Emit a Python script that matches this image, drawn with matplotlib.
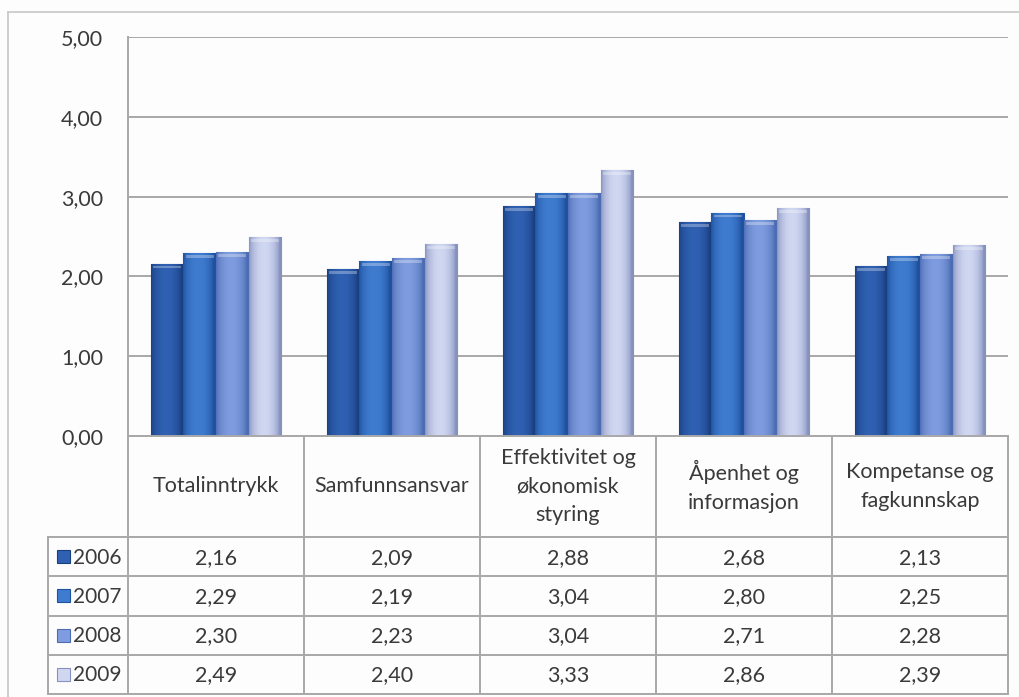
import numpy as np
import matplotlib
matplotlib.use("Agg")
import matplotlib.pyplot as plt
from matplotlib.colors import to_rgb

plt.rcParams['font.family'] = ['Lato', 'DejaVu Sans']

categories = ["Totalinntrykk", "Samfunnsansvar", "Effektivitet og\nøkonomisk\nstyring",
              "Åpenhet og\ninformasjon", "Kompetanse og\nfagkunnskap"]
years = ["2006", "2007", "2008", "2009"]
v2006 = [2.16, 2.09, 2.88, 2.68, 2.13]
v2007 = [2.29, 2.19, 3.04, 2.80, 2.25]
v2008 = [2.30, 2.23, 3.04, 2.71, 2.28]
v2009 = [2.49, 2.40, 3.33, 2.86, 2.39]
series = [v2006, v2007, v2008, v2009]
yticks = [0, 1, 2, 3, 4, 5]

# edge / centre colours for the cylinder-ish shading
edge_cols = ["#1a3f80", "#20519f", "#4c6cb4", "#8791bf"]
mid_cols = ["#2f60b2", "#3f7cd0", "#7e9cdf", "#cfd7f1"]
grid_col = "#a8a8a8"
txt_col = "#3a3a3a"
fs = 15.5

W, H = 1020, 697
fig = plt.figure(figsize=(W / 100, H / 100), dpi=100)
fig.patch.set_facecolor("#fdfdfd")

# outer border of the chart object
fig.add_artist(plt.Line2D([8 / W, 8 / W], [0, 1 - 12 / H], color="#c8c8c8", lw=1.2))
fig.add_artist(plt.Line2D([8 / W, 1], [1 - 12 / H, 1 - 12 / H], color="#c8c8c8", lw=1.2))

left, right = 128 / W, 1008 / W
ax = fig.add_axes([left, 1 - 436 / H, right - left, (436 - 37) / H])
ax.set_facecolor("none")


def shade(edge, mid, n=64):
    t = np.linspace(0, 1, n)
    prof = np.sin(np.pi * np.clip(t * 1.08, 0, 1)) ** 0.6
    e, m = np.array(to_rgb(edge)), np.array(to_rgb(mid))
    return (e[None, :] + (m - e)[None, :] * prof[:, None])[None, :, :]


x = np.arange(len(categories))
bw = 0.185
for i, vals in enumerate(series):
    bars = ax.bar(x + (i - 1.5) * bw, vals, bw, color=mid_cols[i],
                  edgecolor=edge_cols[i], linewidth=0.8, zorder=3)
    img = shade(edge_cols[i], mid_cols[i])
    for r in bars.patches:
        x0, y0, w, h = r.get_x(), r.get_y(), r.get_width(), r.get_height()
        im = ax.imshow(img, extent=[x0, x0 + w, y0, y0 + h], aspect="auto",
                       interpolation="bilinear", zorder=3.5)
        im.set_clip_path(r)
        # thin light rim at the top of each bar
        ax.bar(x0 + w / 2, 0.035, w * 0.86, bottom=y0 + h - 0.06,
               color="white", alpha=0.3, linewidth=0, zorder=4)

ax.set_xlim(-0.5, len(categories) - 0.5)
ax.set_ylim(0, 5)
ax.set_yticks(yticks)
ax.set_yticklabels([f"{v:.2f}".replace(".", ",") for v in yticks],
                   fontsize=fs, color=txt_col)
ax.tick_params(axis="y", length=0, pad=18)
ax.set_xticks([])
ax.grid(axis="y", color=grid_col, lw=1.4, zorder=0)
for s in ["top", "right", "bottom"]:
    ax.spines[s].set_visible(False)
ax.spines["left"].set_color(grid_col)
ax.spines["left"].set_linewidth(1.4)

# data table below the plot
tax = fig.add_axes([left, 1 - 694 / H, right - left, (694 - 436) / H])
tax.set_xlim(-0.5, len(categories) - 0.5)
tax.set_ylim(258, 0)
tax.axis("off")

head_h = 101
row_h = (258 - head_h) / len(years)
leg_x = -0.5 - 80 / 176
lk = dict(color=grid_col, lw=1.4, clip_on=False)
tax.plot([-0.5, len(categories) - 0.5], [0, 0], **lk)
for k in range(len(categories) + 1):
    tax.plot([k - 0.5, k - 0.5], [0, 258], **lk)
tax.plot([leg_x, leg_x], [head_h, 258], **lk)
for j in range(len(years) + 1):
    yy = head_h + j * row_h
    tax.plot([leg_x, len(categories) - 0.5], [yy, yy], **lk)

for k, c in enumerate(categories):
    tax.text(k, head_h / 2, c, ha="center", va="center", fontsize=fs,
             color=txt_col, linespacing=1.55)

for j, (yr, vals) in enumerate(zip(years, series)):
    yc = head_h + (j + 0.5) * row_h
    tax.add_patch(plt.Rectangle((leg_x + 0.05, yc - 6.5), 0.075, 13,
                                facecolor=mid_cols[j], edgecolor=edge_cols[j],
                                lw=0.8, clip_on=False))
    tax.text(leg_x + 0.14, yc + 1, yr, ha="left", va="center", fontsize=fs - 0.5,
             color=txt_col, clip_on=False)
    for k, v in enumerate(vals):
        tax.text(k, yc + 1, f"{v:.2f}".replace(".", ","), ha="center", va="center",
                 fontsize=fs, color=txt_col)

fig.savefig("out.png", dpi=100, facecolor=fig.get_facecolor())
